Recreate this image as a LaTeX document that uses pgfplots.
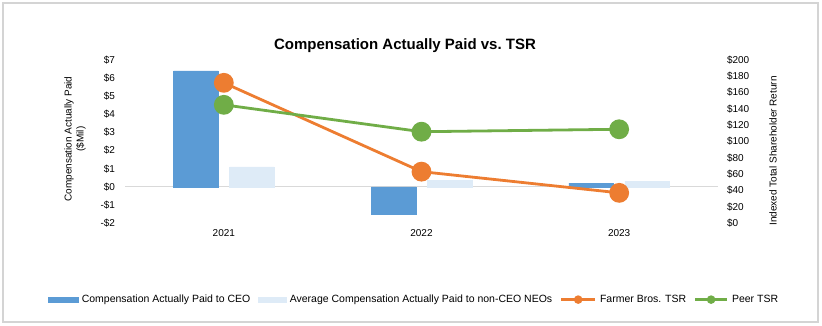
\documentclass[border=0pt]{standalone}
\usepackage{fontspec}
\setmainfont{Liberation Sans}
\usepackage{pgfplots}
\pgfplotsset{compat=1.18}

\definecolor{ceo}{HTML}{5B9BD5}
\definecolor{neo}{HTML}{DEEBF7}
\definecolor{farmer}{HTML}{ED7D31}
\definecolor{peer}{HTML}{70AD47}
\definecolor{zline}{HTML}{D9D9D9}
\definecolor{framec}{HTML}{D4D4D4}

\pgfplotsset{
  common/.style={
    at={(125pt,103pt)}, anchor=south west,
    scale only axis, width=593pt, height=163pt,
    xmin=-0.5, xmax=2.5,
    major tick length=0pt,
    axis line style={draw=none},
    tick label style={font=\fontsize{10}{12}\selectfont},
    label style={font=\fontsize{10.5}{12.5}\selectfont},
  }
}

\begin{document}
\begin{tikzpicture}[x=1pt,y=1pt]
\useasboundingbox (0,0) rectangle (822,326);
\draw[framec, line width=1.5pt] (3,4) rectangle (818,323);
\node[font=\bfseries\fontsize{15}{17}\selectfont] at (405,280) {Compensation Actually Paid vs.\ TSR};

% Left axis: bars
\begin{axis}[common,
  ymin=-2, ymax=7,
  xtick={0,1,2}, xticklabels={2021,2022,2023},
  xticklabel style={yshift=-3pt},
  ytick={-2,-1,0,1,2,3,4,5,6,7},
  yticklabels={-\$2,-\$1,\$0,\$1,\$2,\$3,\$4,\$5,\$6,\$7},
  yticklabel style={xshift=-6.5pt},
  ylabel={Compensation Actually Paid\\(\$Mil)},
  every axis y label/.style={at={(axis description cs:-0.0843,0.515)}, anchor=center, align=center, rotate=90},
  ybar, bar width=44.5pt,
]
\draw[zline, line width=1pt] (axis cs:-0.5,0) -- (axis cs:2.5,0);
\addplot[fill=ceo, draw=ceo, bar shift=-28pt] coordinates {(0,6.4) (1,-1.5) (2,0.2)};
\addplot[fill=neo, draw=neo, bar shift=28pt] coordinates {(0,1.1) (1,0.35) (2,0.3)};
\end{axis}

% Right axis: TSR lines
\begin{axis}[common,
  ymin=0, ymax=200,
  hide x axis,
  axis y line*=right,
  ytick={0,20,...,200},
  yticklabels={\$0,\$20,\$40,\$60,\$80,\$100,\$120,\$140,\$160,\$180,\$200},
  yticklabel style={xshift=5.5pt},
  ylabel={Indexed Total Shareholder Return},
  every axis y label/.style={at={(axis description cs:1.0927,0.442)}, anchor=center, rotate=90},
  legend columns=4,
  legend style={at={(0.4865,-0.47)}, anchor=center, draw=none, fill=none,
    font=\fontsize{10.5}{12.5}\selectfont,
    nodes={inner sep=1pt},
    /tikz/every odd column/.style={column sep=2.5pt},
    /tikz/every even column/.style={column sep=6.5pt},
    inner sep=0pt},
  legend cell align=left,
]
\addlegendimage{legend image code/.code={\fill[ceo] (0pt,-2.5pt) rectangle (30pt,2.5pt);}}
\addlegendentry{Compensation Actually Paid to CEO}
\addlegendimage{legend image code/.code={\fill[neo] (0pt,-2.5pt) rectangle (28pt,2.5pt);}}
\addlegendentry{Average Compensation Actually Paid to non-CEO NEOs}
\addplot[farmer, line width=2.8pt, mark=*, mark size=8.5pt,
  legend image code/.code={\draw[farmer, line width=2.8pt] (0pt,0pt) -- (34pt,0pt); \fill[farmer] (17pt,0pt) circle (2.8pt);}]
  coordinates {(0,172) (1,63) (2,37)};
\addlegendentry{Farmer Bros. TSR}
\addplot[peer, line width=2.8pt, mark=*, mark size=8.5pt,
  legend image code/.code={\draw[peer, line width=2.8pt] (0pt,0pt) -- (32pt,0pt); \fill[peer] (16pt,0pt) circle (2.8pt);}]
  coordinates {(0,145) (1,112) (2,115)};
\addlegendentry{Peer TSR}
\end{axis}
\end{tikzpicture}
\end{document}
